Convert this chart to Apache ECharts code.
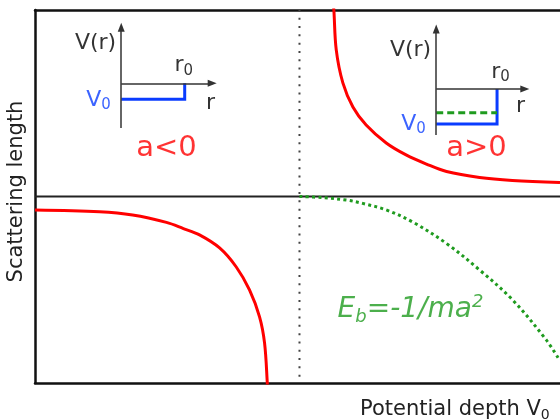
<!DOCTYPE html>
<html><head><meta charset="utf-8">
<script src="https://cdn.jsdelivr.net/npm/echarts@6/dist/echarts.min.js"></script>
<style>html,body{margin:0;padding:0;background:#fff}#c{width:560px;height:420px}</style>
</head><body><div id="c"></div>
<script>
// Scattering length a versus potential depth V0 (arbitrary units; V0 = 1 is the threshold)
const leftBranch = [[0,-0.072],[0.244,-0.0815],[0.369,-0.099],[0.497,-0.139],[0.561,-0.172],[0.622,-0.206],[0.698,-0.276],[0.761,-0.378],[0.811,-0.501],[0.849,-0.645],[0.868,-0.786],[0.878,-0.993],[0.879,-1.048]];
const rightBranch = [[1.128,1.027],[1.130,1.0],[1.139,0.786],[1.164,0.609],[1.202,0.480],[1.252,0.383],[1.328,0.287],[1.403,0.223],[1.480,0.174],[1.556,0.134],[1.681,0.102],[1.805,0.086],[1.985,0.075]];
const bindingCurve = [[1.0,0],[1.087,-0.006],[1.177,-0.019],[1.239,-0.037],[1.328,-0.072],[1.428,-0.137],[1.555,-0.251],[1.681,-0.394],[1.806,-0.555],[1.933,-0.769],[1.983,-0.877]];
const threshold = [[1.0,-0.966],[1.0,1.0]];
const zeroLine = [[0,0],[1.985,0]];
// inset sketches (square wells)
const leftWell = [[0.326,0.521],[0.566,0.521],[0.566,0.607]];
const leftAxes = [[[0.326,0.367],[0.326,0.907]],[[0.326,0.607],[0.670,0.607]]];
const rightWell = [[1.517,0.389],[1.747,0.389],[1.747,0.576]];
const rightLevel = [[1.517,0.449],[1.747,0.449]];
const rightAxes = [[[1.517,0.330],[1.517,0.898]],[[1.517,0.576],[1.852,0.576]]];
// annotation texts
const labels = [
  {text:'{n|V(r)}', at:[0.307,0.821], align:'right', kind:'ink'},
  {text:'{n|r}{s|0}', at:[0.527,0.703], align:'left', kind:'ink'},
  {text:'{n|r}', at:[0.647,0.498], align:'left', kind:'ink'},
  {text:'{n|V}{s|0}', at:[0.194,0.517], align:'left', kind:'blue'},
  {text:'{b|a<0}', at:[0.497,0.257], align:'center', kind:'red'},
  {text:'{n|V(r)}', at:[1.498,0.786], align:'right', kind:'ink'},
  {text:'{n|r}{s|0}', at:[1.725,0.668], align:'left', kind:'ink'},
  {text:'{n|r}', at:[1.819,0.484], align:'left', kind:'ink'},
  {text:'{n|V}{s|0}', at:[1.385,0.389], align:'left', kind:'blue'},
  {text:'{b|a>0}', at:[1.669,0.255], align:'center', kind:'red'},
  {text:'{e|E}{es|b}{e|=-1/ma}{ep|2}', at:[1.144,-0.607], align:'left', kind:'green'}
];
const yTitle = 'Scattering length';
const xTitle = 'Potential depth V';

const RED = '#ff0000', BLUE = '#0a3cff', GREEN = '#1f9b1f', INK = '#000000';
const FF = 'DejaVu Sans';
const kindColor = {ink: INK, blue: BLUE, red: RED, green: GREEN};

function richFor(color) {
  return {
    n: {fontFamily: FF, fontSize: 22, color, lineHeight: 26},
    s: {fontFamily: FF, fontSize: 15, color, lineHeight: 14, verticalAlign: 'bottom'},
    b: {fontFamily: FF, fontSize: 29, color, lineHeight: 32},
    e: {fontFamily: FF, fontSize: 28, fontStyle: 'italic', color, lineHeight: 33},
    es: {fontFamily: FF, fontSize: 18, fontStyle: 'italic', color, lineHeight: 17, verticalAlign: 'bottom'},
    ep: {fontFamily: FF, fontSize: 18, fontStyle: 'italic', color, lineHeight: 18, verticalAlign: 'top'}
  };
}

function axesMarkLine(segs) {
  return {
    silent: true, symbol: ['none', 'triangle'], symbolSize: [7, 9],
    label: {show: false},
    lineStyle: {color: '#333', width: 1.5, type: 'solid'},
    emphasis: {disabled: true},
    data: segs.map(s => [{coord: s[0]}, {coord: s[1]}])
  };
}

const frameLine = {show: true, onZero: false, lineStyle: {color: '#111', width: 2.5}};
const hidden = {axisTick: {show: false}, axisLabel: {show: false}, splitLine: {show: false}};

const chart = echarts.init(document.getElementById('c'), null, {renderer: 'canvas'});
const series = [
  {type: 'line', data: zeroLine, symbol: 'none', silent: true, lineStyle: {color: '#222', width: 2}, z: 2},
  {type: 'line', data: threshold, symbol: 'none', silent: true, lineStyle: {color: '#444', width: 2, type: [2, 6.3]}, z: 2},
  {type: 'line', data: leftBranch, symbol: 'none', smooth: 0.35, silent: true, lineStyle: {color: RED, width: 3}, z: 3},
  {type: 'line', data: rightBranch, symbol: 'none', smooth: 0.35, silent: true, lineStyle: {color: RED, width: 3}, z: 3},
  {type: 'line', data: bindingCurve, symbol: 'none', smooth: 0.35, silent: true, lineStyle: {color: GREEN, width: 3, type: [3, 3.3]}, z: 3},
  {type: 'line', data: leftWell, symbol: 'none', silent: true, lineStyle: {color: BLUE, width: 3, join: 'miter'}, z: 4, markLine: axesMarkLine(leftAxes)},
  {type: 'line', data: rightWell, symbol: 'none', silent: true, lineStyle: {color: BLUE, width: 3, join: 'miter'}, z: 4, markLine: axesMarkLine(rightAxes)},
  {type: 'line', data: rightLevel, symbol: 'none', silent: true, lineStyle: {color: GREEN, width: 3, type: [7, 4]}, z: 4},
  {type: 'scatter', symbolSize: 0, silent: true, z: 6,
    data: labels.map(l => ({
      value: l.at,
      label: {show: true, position: 'inside', formatter: l.text, align: l.align, verticalAlign: 'middle', rich: richFor(kindColor[l.kind])}
    }))
  }
];

chart.setOption({
  animation: false,
  backgroundColor: '#ffffff',
  grid: {left: 35, top: 10, right: 0, bottom: 37, show: false},
  xAxis: [
    Object.assign({type: 'value', min: 0, max: 1.985, position: 'bottom', axisLine: frameLine}, hidden),
    Object.assign({type: 'value', min: 0, max: 1.985, position: 'top', axisLine: frameLine}, hidden)
  ],
  yAxis: Object.assign({type: 'value', min: -1, max: 1, position: 'left', axisLine: frameLine}, hidden),
  graphic: [
    {type: 'text', x: 16.5, y: 191.5, rotation: Math.PI / 2, silent: true,
      style: {text: yTitle, fontFamily: FF, fontSize: 21, fill: '#222', align: 'center', verticalAlign: 'middle'}},
    {type: 'text', x: 360, y: 409.5, silent: true,
      style: {text: '{n|' + xTitle + '}{s|0}', align: 'left', verticalAlign: 'middle',
        rich: {n: {fontFamily: FF, fontSize: 21, fill: '#222', lineHeight: 25}, s: {fontFamily: FF, fontSize: 14, fill: '#222', lineHeight: 13, verticalAlign: 'bottom'}}}}
  ],
  series
});
</script></body></html>
